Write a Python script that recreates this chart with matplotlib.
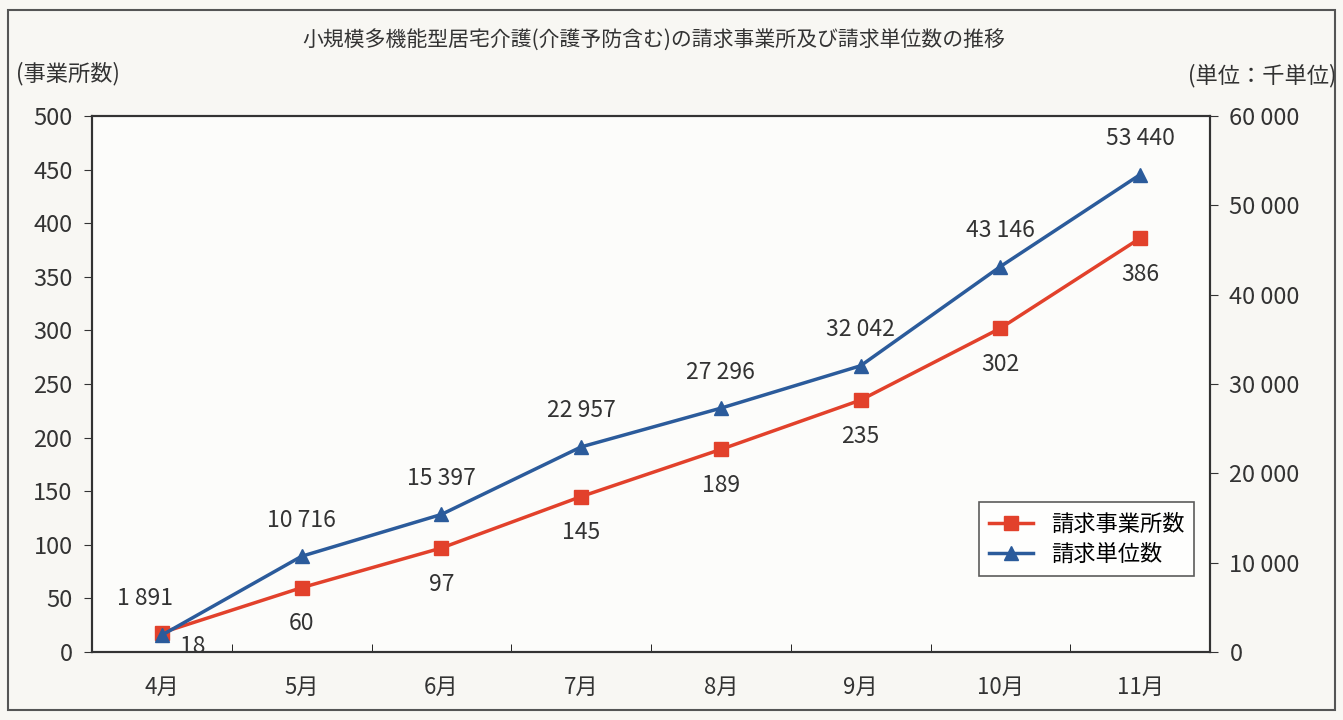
import matplotlib.pyplot as plt
from matplotlib.patches import Rectangle

plt.rcParams['font.family'] = ['Noto Sans CJK JP', 'DejaVu Sans']

# データ
months = ['4月', '5月', '6月', '7月', '8月', '9月', '10月', '11月']
offices = [18, 60, 97, 145, 189, 235, 302, 386]
units = [1891, 10716, 15397, 22957, 27296, 32042, 43146, 53440]
left_ticks = list(range(0, 501, 50))
right_ticks = list(range(0, 60001, 10000))

red = '#e2412b'
blue = '#2b5b9b'
text_color = '#333333'


def fmt(v):
    return f'{v:,}'.replace(',', ' ')


fig = plt.figure(figsize=(13.43, 7.2), dpi=100, facecolor='#f8f7f3')
ax = fig.add_axes([92 / 1343, 68 / 720, 1118 / 1343, 536 / 720])
ax.set_facecolor('#fcfcfa')
ax2 = ax.twinx()

x = list(range(len(months)))
l1, = ax.plot(x, offices, color=red, lw=2.5, marker='s', ms=10, label='請求事業所数', zorder=3)
l2, = ax2.plot(x, units, color=blue, lw=2.5, marker='^', ms=10, label='請求単位数', zorder=3)

ax.set_xlim(-0.5, len(months) - 0.5)
ax.set_ylim(0, 500)
ax2.set_ylim(0, 60000)
ax.set_yticks(left_ticks)
ax2.set_yticks(right_ticks)
ax2.set_yticklabels([fmt(v) for v in right_ticks])
ax.set_xticks(x)
ax.set_xticklabels(months)
ax.set_xticks([i + 0.5 for i in x[:-1]], minor=True)
ax.tick_params(axis='x', which='major', length=0, pad=17, labelsize=16, colors=text_color)
ax.tick_params(axis='x', which='minor', direction='in', length=6)
ax.tick_params(axis='y', direction='out', length=6, labelsize=17, colors=text_color, pad=8)
ax2.tick_params(axis='y', direction='out', length=6, labelsize=17, colors=text_color, pad=8)

for a in (ax, ax2):
    for s in a.spines.values():
        s.set_color('#333333')
        s.set_linewidth(1.5)

# データラベル
for i, v in enumerate(offices):
    if i == 0:
        ax.annotate(str(v), (i, v), xytext=(22, -10), textcoords='offset points',
                    ha='center', va='center', fontsize=16.5, color=text_color)
    else:
        ax.annotate(str(v), (i, v), xytext=(0, -26), textcoords='offset points',
                    ha='center', va='center', fontsize=16.5, color=text_color)
for i, v in enumerate(units):
    dx = -12 if i == 0 else 0
    ax2.annotate(fmt(v), (i, v), xytext=(dx, 26), textcoords='offset points',
                 ha='center', va='center', fontsize=16.5, color=text_color)

leg = ax.legend(handles=[l1, l2], loc='upper left', bbox_to_anchor=(0.783, 0.3),
                fontsize=16, frameon=True, fancybox=False, edgecolor='#333333',
                handlelength=2.0, borderpad=0.45, labelspacing=0.35)
leg.get_frame().set_linewidth(1.2)

fig.text(0.487, 0.943, '小規模多機能型居宅介護(介護予防含む)の請求事業所及び請求単位数の推移',
         ha='center', va='center', fontsize=15, color=text_color)
fig.text(0.012, 0.898, '(事業所数)', ha='left', va='center', fontsize=16, color=text_color)
fig.text(0.995, 0.895, '(単位：千単位)', ha='right', va='center', fontsize=16, color=text_color)

# 外枠
fig.patches.append(Rectangle((8 / 1343, 10 / 720), 1327 / 1343, 700 / 720,
                             transform=fig.transFigure, fill=False,
                             edgecolor='#555555', lw=1.5))

plt.savefig('out.png', dpi=100, facecolor=fig.get_facecolor())
